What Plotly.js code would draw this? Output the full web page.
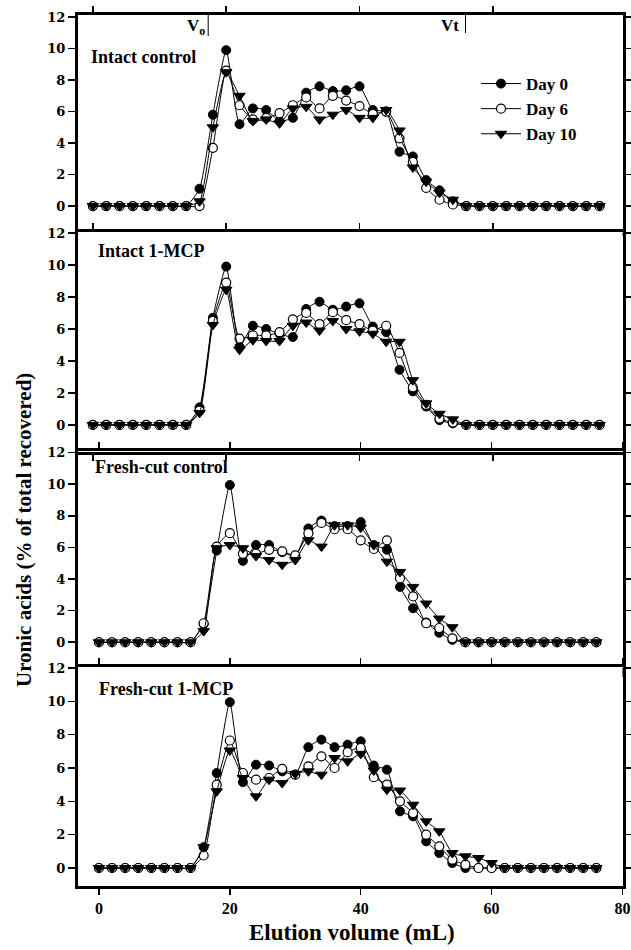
<!DOCTYPE html>
<html>
<head>
<meta charset="utf-8">
<script src="https://cdn.plot.ly/plotly-3.0.1.min.js"></script>
<style>html,body{margin:0;padding:0;background:#fff;}#chart{width:631px;height:950px;}</style>
</head>
<body>
<div id="chart"></div>
<script>
// Elution volume (mL)
const volume = [0,2,4,6,8,10,12,14,16,18,20,22,24,26,28,30,32,34,36,38,40,42,44,46,48,50,52,54,56,58,60,62,64,66,68,70,72,74,76];
const seriesNames = ["Day 0", "Day 6", "Day 10"];
const panelTitles = ["Intact control", "Intact 1-MCP", "Fresh-cut control", "Fresh-cut 1-MCP"];

// Intact control
const intactControlDay0  = [0,0,0,0,0,0,0,0, 1.1,5.8,9.9,5.2,6.2,6.1,5.4,5.6,7.2,7.6,7.3,7.35,7.6,6.1,6.0,3.45,3.15,1.65,1.0,0.3, 0,0,0,0,0,0,0,0,0,0,0];
const intactControlDay6  = [0,0,0,0,0,0,0,0, 0,3.7,8.6,6.4,5.5,5.6,5.9,6.4,6.9,6.2,7.0,6.7,6.35,5.85,6.0,4.3,2.8,1.15,0.4,0.1, 0,0,0,0,0,0,0,0,0,0,0];
const intactControlDay10 = [0,0,0,0,0,0,0,0, 0.3,5.0,8.5,7.0,5.4,5.5,5.25,6.2,6.3,5.5,5.8,6.1,5.6,5.6,6.1,4.8,2.45,1.55,0.85,0.4, 0,0,0,0,0,0,0,0,0,0,0];

// Intact 1-MCP
const intactMcpDay0  = [0,0,0,0,0,0,0,0, 1.1,6.7,9.9,4.9,6.2,6.0,5.7,5.5,7.25,7.7,7.2,7.4,7.6,6.15,5.8,3.45,2.1,1.15,0.3,0.1, 0,0,0,0,0,0,0,0,0,0,0];
const intactMcpDay6  = [0,0,0,0,0,0,0,0, 0.9,6.5,8.9,5.4,5.6,5.6,5.8,6.6,7.0,6.3,7.05,6.55,6.3,5.9,6.2,4.5,2.35,1.25,0.4,0.15, 0,0,0,0,0,0,0,0,0,0,0];
const intactMcpDay10 = [0,0,0,0,0,0,0,0, 0.75,6.25,8.45,4.7,5.3,5.25,5.25,6.2,6.4,5.9,6.5,6.0,5.85,5.7,5.2,5.2,2.8,1.35,0.7,0.35, 0,0,0,0,0,0,0,0,0,0,0];

// Fresh-cut control
const freshControlDay0  = [0,0,0,0,0,0,0,0, 1.15,5.8,9.95,5.15,6.15,6.15,5.7,5.45,7.2,7.7,7.35,7.35,7.6,6.15,5.85,3.5,2.15,1.25,0.6,0.15, 0,0,0,0,0,0,0,0,0,0,0];
const freshControlDay6  = [0,0,0,0,0,0,0,0, 1.2,6.05,6.9,5.6,5.6,5.85,5.75,5.5,6.9,7.55,7.15,7.15,6.45,5.9,6.45,4.05,2.9,1.2,0.9,0.25, 0,0,0,0,0,0,0,0,0,0,0];
const freshControlDay10 = [0,0,0,0,0,0,0,0, 0.7,5.95,6.15,5.95,5.45,5.2,4.9,5.2,6.45,6.05,7.4,7.4,7.25,6.15,5.1,4.45,3.5,2.45,1.5,0.95, 0,0,0,0,0,0,0,0,0,0,0];

// Fresh-cut 1-MCP
const freshMcpDay0  = [0,0,0,0,0,0,0,0, 1.25,5.7,9.95,5.15,6.2,6.15,5.8,5.6,7.25,7.7,7.25,7.4,7.6,6.15,5.9,3.4,3.1,1.6,0.9,0.3, 0,0,0,0,0,0,0,0,0,0,0];
const freshMcpDay6  = [0,0,0,0,0,0,0,0, 0.75,5.0,7.65,5.7,5.3,5.4,5.95,5.6,6.1,6.7,6.0,6.95,7.2,5.45,5.0,4.0,3.3,2.0,1.3,0.5,0.2, 0,0,0,0,0,0,0,0,0,0];
const freshMcpDay10 = [0,0,0,0,0,0,0,0, 1.25,4.6,7.05,5.4,4.3,5.3,5.1,5.65,5.8,5.6,6.6,6.4,6.85,5.85,4.7,4.65,3.8,2.8,2.2,0.9,0.7,0.6,0.3, 0,0,0,0,0,0,0,0];

const yTicks = [0,2,4,6,8,10,12];
const xTicks = [0,20,40,60,80];

const panels = [
  [intactControlDay0, intactControlDay6, intactControlDay10],
  [intactMcpDay0, intactMcpDay6, intactMcpDay10],
  [freshControlDay0, freshControlDay6, freshControlDay10],
  [freshMcpDay0, freshMcpDay6, freshMcpDay10]
];

// ---- layout geometry (pixels) ----
const W = 631, H = 950;
const plotL = 78, plotR = 622.5;
const panelPx = [[15,233],[232,452],[451,668],[667,886]];
const yRanges = [[-1.71,12.13],[-1.69,12.06],[-1.63,12.1],[-1.08,12.06]];
const xRanges = [[-2.23,79.45],[-2.23,79.45],[-3.2,80.0],[-3.2,80.0]];

const markerStyles = [
  {symbol:'circle', size:9, color:'#000', line:{color:'#000', width:1}},
  {symbol:'circle', size:9, color:'#fff', line:{color:'#000', width:1.2}},
  {symbol:'triangle-down', size:10, color:'#000', line:{color:'#000', width:1}}
];

const traces = [];
panels.forEach((p, i) => {
  const ax = i === 0 ? '' : String(i+1);
  p.forEach((vals, k) => {
    traces.push({
      x: volume, y: vals, type:'scatter', mode:'lines+markers',
      xaxis:'x'+ax, yaxis:'y'+ax,
      name: seriesNames[k], showlegend: i === 0,
      line:{color:'#000', width:1, shape:'spline', smoothing:0.5},
      marker: markerStyles[k]
    });
  });
});

const layout = {
  width:W, height:H, margin:{l:0,r:0,t:0,b:0},
  paper_bgcolor:'#fff', plot_bgcolor:'#fff',
  showlegend:true,
  legend:{x:476/W, y:1-66/H, xanchor:'left', yanchor:'top', bgcolor:'rgba(0,0,0,0)',
          font:{family:'Liberation Serif', size:17, color:'#000', weight:'bold'},
          itemwidth:40, tracegroupgap:0},
  annotations:[], shapes:[]
};

panelPx.forEach((pp, i) => {
  const ax = i === 0 ? '' : String(i+1);
  const isBottom = i === 3;
  layout['xaxis'+ax] = {
    domain:[plotL/W, plotR/W], anchor:'y'+ax, range:xRanges[i],
    tickvals:xTicks, ticks:'outside', ticklen:6, tickwidth:1.5, tickcolor:'#000',
    showticklabels:isBottom, showgrid:false, zeroline:false,
    showline:true, linewidth:3, linecolor:'#000', mirror:'ticks',
    tickfont:{family:'Liberation Serif', size:16, color:'#000', weight:'bold'}
  };
  layout['yaxis'+ax] = {
    domain:[1-pp[1]/H, 1-pp[0]/H], anchor:'x'+ax, range:yRanges[i],
    tickvals:yTicks, ticks:'outside', ticklen:7, tickwidth:1.5, tickcolor:'#000',
    showgrid:false, zeroline:false,
    showline:true, linewidth:3, linecolor:'#000', mirror:'ticks',
    tickfont:{family:'DejaVu Serif', size:13, color:'#000', weight:'bold'}
  };
});

const labelPos = [[89,57],[96,251],[93,467],[97,689]];
panelTitles.forEach((t, i) => {
  layout.annotations.push({
    text:t, xref:'paper', yref:'paper', x:labelPos[i][0]/W, y:1-labelPos[i][1]/H,
    xanchor:'left', yanchor:'middle', showarrow:false,
    font:{family:'Liberation Serif', size:18, color:'#000', weight:'bold'}
  });
});

// Vo and Vt markers
layout.annotations.push({text:'V<sub>o</sub>', xref:'x', yref:'paper', x:17.1, y:1-14/H,
  xanchor:'right', yanchor:'top', showarrow:false,
  font:{family:'Liberation Serif', size:17, color:'#000', weight:'bold'}});
layout.annotations.push({text:'Vt', xref:'x', yref:'paper', x:55.2, y:1-14/H,
  xanchor:'right', yanchor:'top', showarrow:false,
  font:{family:'Liberation Serif', size:17, color:'#000', weight:'bold'}});
layout.shapes.push({type:'line', xref:'x', yref:'paper', x0:17.3, x1:17.3, y0:1-15/H, y1:1-36/H, line:{color:'#000', width:1}});
layout.shapes.push({type:'line', xref:'x', yref:'paper', x0:55.9, x1:55.9, y0:1-15/H, y1:1-33/H, line:{color:'#000', width:1}});

// axis titles
layout.annotations.push({text:'Elution volume (mL)', xref:'paper', yref:'paper', x:352/W, y:1-932/H,
  xanchor:'center', yanchor:'middle', showarrow:false,
  font:{family:'Liberation Serif', size:23, color:'#000', weight:'bold'}});
layout.annotations.push({text:'Uronic acids (% of total recovered)', xref:'paper', yref:'paper', x:24/W, y:1-530/H,
  xanchor:'center', yanchor:'middle', showarrow:false, textangle:-90,
  font:{family:'Liberation Sans Narrow, Liberation Serif', size:21, color:'#000', weight:'bold'}});

Plotly.newPlot('chart', traces, layout, {staticPlot:true});
</script>
</body>
</html>
